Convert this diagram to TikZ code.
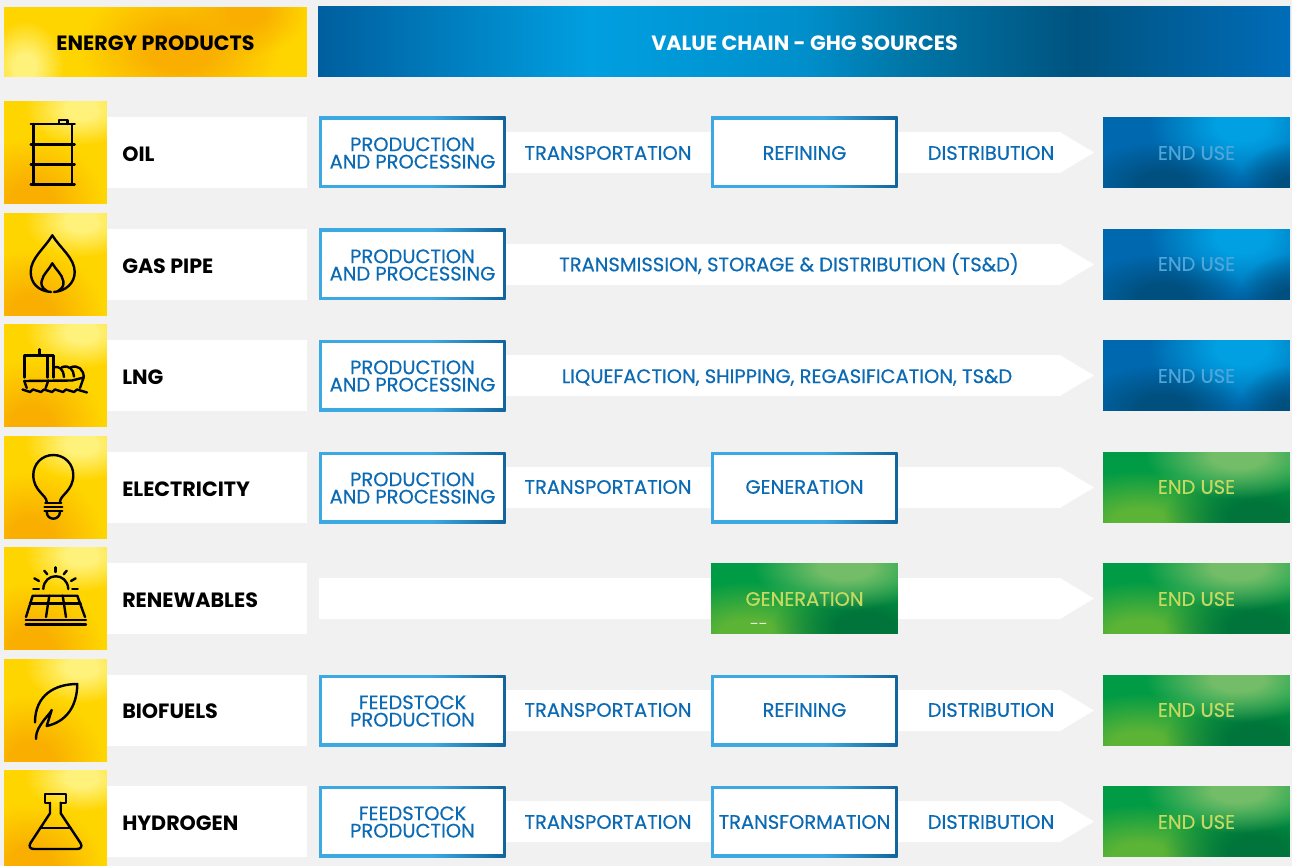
\documentclass[tikz,border=0pt]{standalone}
\usepackage{fontspec}
\setmainfont{Poppins}
\newfontfamily\stagefont[FakeBold=0.4]{Poppins}
\usetikzlibrary{fadings}
\definecolor{pagegray}{HTML}{F1F1F1}
\definecolor{stageblue}{HTML}{0A6AB4}
\definecolor{goldbase}{HTML}{FFD500}
\definecolor{goldorange}{HTML}{F9AE00}
\definecolor{goldlight}{HTML}{FFF27A}
\definecolor{blueend}{HTML}{0068AE}
\definecolor{bluebright}{HTML}{00A0E2}
\definecolor{bluedark}{HTML}{00507F}
\definecolor{blueendtext}{HTML}{4FA6DA}
\definecolor{greenend}{HTML}{009B45}
\definecolor{greenlight}{HTML}{74BD68}
\definecolor{greenlime}{HTML}{5CB436}
\definecolor{greendark}{HTML}{00743A}
\definecolor{greenendtext}{HTML}{C6D961}
\definecolor{framelight}{HTML}{3CA9E2}
\definecolor{framedark}{HTML}{12649C}
\definecolor{headone}{HTML}{005E9E}
\definecolor{headtwo}{HTML}{009FE0}
\definecolor{headthree}{HTML}{008FCB}
\definecolor{headfour}{HTML}{0077A8}
\definecolor{headfive}{HTML}{00537F}
\definecolor{headsix}{HTML}{006CB8}
\pgfdeclareradialshading{softdisc}{\pgfpointorigin}{color(0bp)=(white); color(7bp)=(white); color(25bp)=(black); color(50bp)=(black)}
\pgfdeclarefading{softglow}{\pgfuseshading{softdisc}}
\pgfdeclarehorizontalshading{headerblue}{100bp}{color(0bp)=(headone); color(25bp)=(headone); color(39bp)=(headtwo); color(50bp)=(headthree); color(55bp)=(headfour); color(64bp)=(headfive); color(75bp)=(headsix); color(100bp)=(headsix)}
\pgfdeclarehorizontalshading{framefade}{100bp}{color(0bp)=(framelight); color(25bp)=(framelight); color(55bp)=(framelight); color(75bp)=(framedark); color(100bp)=(framedark)}
\tikzset{
  pixels/.style={x=0.75pt,y=-0.75pt},
  producttext/.style={font=\fontsize{15.5}{15.5}\selectfont\bfseries, text=black, anchor=west, inner sep=0pt},
  stagetext/.style={font=\stagefont\fontsize{14.6}{13}\selectfont, text=stageblue, align=center, inner sep=0pt},
  endtext/.style={font=\stagefont\fontsize{14.6}{13}\selectfont, align=center, inner sep=0pt},
  icon/.style={draw=black, line width=1.8pt, line cap=round, line join=round},
}
% a soft spot fills the panel, args: colour, centre x, centre y, radius x, radius y, all as parts of the panel
\newcommand{\spot}[5]{\fill[#1, path fading=softglow, fading transform={xshift={(#2-0.5)*50bp}, yshift={(0.5-#3)*50bp}, xscale={2*#4}, yscale={2*#5}}] (0,0) rectangle (1,1);}
% panels, args: left, top, width, height
\newcommand{\goldpanel}[4]{\begin{scope}[shift={(#1,#2)},x=#3*0.75pt,y=-#4*0.75pt]
  \fill[goldbase] (0,0) rectangle (1,1);
  \spot{goldorange}{0.26}{1}{0.7}{0.65}
  \spot{goldlight}{0.75}{0.08}{0.55}{0.35}
\end{scope}}
\newcommand{\blueendpanel}[4]{\begin{scope}[shift={(#1,#2)},x=#3*0.75pt,y=-#4*0.75pt]
  \fill[blueend] (0,0) rectangle (1,1);
  \spot{bluebright}{0.74}{0.1}{0.5}{0.9}
  \spot{bluedark}{0.32}{0.95}{0.45}{0.6}
  \spot{bluedark}{1}{1.05}{0.3}{0.7}
\end{scope}}
\newcommand{\greenendpanel}[4]{\begin{scope}[shift={(#1,#2)},x=#3*0.75pt,y=-#4*0.75pt]
  \fill[greenend] (0,0) rectangle (1,1);
  \spot{greenlime}{0.2}{1}{0.55}{0.75}
  \spot{greendark}{0.82}{0.92}{0.5}{0.7}
  \spot{greenlight}{0.72}{0.06}{0.5}{0.6}
\end{scope}}
% blue edged box behind a stage, args: left, top
\newcommand{\stageframe}[2]{\shade[shading=framefade] (#1,#2) rectangle ++(186.5,71);
  \fill[white] (#1+3,#2+3) rectangle ++(180.5,65);}
\newcommand{\arrowband}[1]{\fill[white] (319,#1+31) -- (1060,#1+31) -- (1094,#1+51.5) -- (1060,#1+72) -- (319,#1+72) -- cycle;}
\begin{document}
\begin{tikzpicture}[pixels]
  \useasboundingbox (0,0) rectangle (1292,866);
  \fill[pagegray] (0,0) rectangle (1292,866);
  % headers
  \begin{scope}[shift={(4,7)},x=303*0.75pt,y=-70*0.75pt]
    \fill[goldbase] (0,0) rectangle (1,1);
    \spot{goldorange}{0.58}{0.6}{0.33}{1}
    \spot{goldorange}{0.8}{0.05}{0.2}{0.65}
    \spot{goldlight}{0.07}{0.85}{0.13}{0.65}
  \end{scope}
  \shade[shading=headerblue] (318,7) rectangle (1290,77);
  \node (energyhead) [font=\fontsize{15.5}{15.5}\selectfont\bfseries, inner sep=0pt] at (155.5,43) {ENERGY PRODUCTS};
  \node (chainhead) [font=\fontsize{15.5}{15.5}\selectfont\bfseries, text=white, inner sep=0pt] at (804.5,43) {VALUE CHAIN - GHG SOURCES};

  % white bands and product rows
  \arrowband{101}
  \arrowband{213}
  \arrowband{324}
  \arrowband{436}
  \arrowband{547}
  \arrowband{659}
  \arrowband{770}
  \fill[white] (107,117) rectangle (307,188);
  \fill[white] (107,229) rectangle (307,300);
  \fill[white] (107,340) rectangle (307,411);
  \fill[white] (107,452) rectangle (307,523);
  \fill[white] (107,563) rectangle (307,634);
  \fill[white] (107,675) rectangle (307,746);
  \fill[white] (107,786) rectangle (307,857);
  \goldpanel{4}{101}{103}{103}
  \goldpanel{4}{213}{103}{103}
  \goldpanel{4}{324}{103}{103}
  \goldpanel{4}{436}{103}{103}
  \goldpanel{4}{547}{103}{103}
  \goldpanel{4}{659}{103}{103}
  \goldpanel{4}{770}{103}{96}
  \node (oil) [producttext] at (122,154) {OIL};
  \node (gaspipe) [producttext] at (122,266) {GAS PIPE};
  \node (lng) [producttext] at (122,377) {LNG};
  \node (electricity) [producttext] at (122,489) {ELECTRICITY};
  \node (renewables) [producttext] at (122,600) {RENEWABLES};
  \node (biofuels) [producttext] at (122,711) {BIOFUELS};
  \node (hydrogen) [producttext] at (122,823) {HYDROGEN};

  % barrel
  \draw[icon] (33.3,124) -- (33.3,184.7);
  \draw[icon] (71.7,124) -- (71.7,184.7);
  \draw[icon] (30.7,124) -- (74.7,124);
  \draw[icon] (30.7,144.5) -- (74.7,144.5);
  \draw[icon] (30.7,164.5) -- (74.7,164.5);
  \draw[icon] (30.7,184.7) -- (74.7,184.7);
  \draw[icon] (58.7,124) -- (58.7,120.3) -- (67.3,120.3) -- (67.3,124);
  % flame
  \draw[icon] (51,292) .. controls (38,291) and (30.7,283) .. (30.7,272) .. controls (30.7,258) and (45,248) .. (52.3,235.3) .. controls (60,248) and (74.7,258) .. (74.7,272) .. controls (74.7,283) and (66,291) .. (54,292);
  \draw[icon] (47,291) .. controls (41,288) and (41,283) .. (41.7,281) .. controls (43,274) and (49,270) .. (52.3,263.3) .. controls (56,270) and (62,274) .. (63.3,281) .. controls (64,285) and (63,288) .. (58,291);
  % ship
  \draw[icon] (39.3,349.3) -- (39.3,355.5);
  \draw[icon] (24.3,377.5) -- (24.3,355.5) -- (53.3,355.5) -- (53.3,377.5);
  \draw[icon] (47.3,355.5) -- (47.3,377.5);
  \draw[icon] (53.3,367.5) .. controls (59,365) and (64,370) .. (64,377);
  \draw[icon] (61.5,367.5) .. controls (69,364) and (74,370) .. (74,376.5);
  \draw[icon] (70.5,367.5) .. controls (78,364) and (84,370) .. (83.7,377.5);
  \draw[icon] (24.3,381) -- (72,380.5) -- (83.7,377.5) -- (80,388);
  \draw[icon] (24.3,381) -- (26.7,388);
  \draw[icon] (48.3,380.5) -- (45.7,388);
  \draw[icon] (22.5,389.5) -- (30,392) -- (33,389.5) -- (41,392) -- (44,389.5) -- (52,392) -- (55,389.5) -- (63,392) -- (66,389.5) -- (74,392) -- (77,389.5) -- (87,392.5);
  % bulb
  \draw[icon] (46.7,502) .. controls (46.7,495) and (33.3,491) .. (33.3,475) .. controls (33.3,464) and (42,455) .. (53.3,455) .. controls (64.7,455) and (73.3,464) .. (73.3,475) .. controls (73.3,491) and (60,495) .. (60,502);
  \draw[icon] (45.3,502.7) -- (61.3,502.7);
  \draw[icon] (44.5,506.7) -- (62.3,506.7);
  \draw[icon] (44.5,510.7) -- (62.3,510.7);
  \draw[icon] (46.7,511.7) .. controls (46.7,521) and (60,521) .. (60,511.7);
  % solar panel
  \draw[icon] (43.3,589) .. controls (44,572) and (67.5,572) .. (68.3,589);
  \draw[icon] (55.3,567.3) -- (55.3,572);
  \draw[icon] (44.3,570.7) -- (47.3,574.3);
  \draw[icon] (66.7,570.7) -- (63.7,574.3);
  \draw[icon] (34.3,578.3) -- (39,581);
  \draw[icon] (75.7,578.3) -- (71,581);
  \draw[icon] (33.3,589) -- (39,589);
  \draw[icon] (72.3,589) -- (77.7,589);
  \draw[icon] (26,617) -- (32.7,595.7) -- (77.3,595.7) -- (85,617);
  \draw[icon] (30,603.3) -- (80.7,603.3);
  \draw[icon] (49.3,595.7) -- (46,617);
  \draw[icon] (62.7,595.7) -- (66,617);
  \draw[icon] (25.7,620) -- (86,620);
  \draw[icon] (25.7,624.5) -- (86,624.5);
  % leaf
  \draw[icon] (77.3,684) .. controls (55,684) and (35,695) .. (35,722.5);
  \draw[icon] (36,739) .. controls (36,730) and (40,726) .. (44,720) .. controls (48,715) and (51,712) .. (51.7,710) -- (46.7,726) .. controls (65,722) and (77,708) .. (77.3,684);
  % flask
  \draw[icon] (50,802.7) -- (45,802.7) -- (45,794) -- (66,794) -- (66,802.7) -- (60.7,802.7);
  \draw[icon] (50,802.7) -- (50,813.3) -- (30.5,843) .. controls (28.5,846.5) and (30,849) .. (34,849) -- (77,849) .. controls (81,849) and (82.5,846.5) .. (80.5,843) -- (60.7,813.3) -- (60.7,802.7);
  \draw[icon] (40,827.7) -- (70.7,827.7);

  % oil
  \stageframe{319}{117}
  \stageframe{711}{117}
  \node (oilprod) [stagetext] at (412.5,153) {PRODUCTION\\AND PROCESSING};
  \node (oiltrans) [stagetext] at (608,153) {TRANSPORTATION};
  \node (oilrefine) [stagetext] at (804.5,153) {REFINING};
  \node (oildist) [stagetext] at (991,153) {DISTRIBUTION};
  \blueendpanel{1103}{117}{187}{71}
  \node (oilend) [endtext, text=blueendtext] at (1196.5,153) {END USE};
  % gas pipe
  \stageframe{319}{229}
  \node (gasprod) [stagetext] at (412.5,265) {PRODUCTION\\AND PROCESSING};
  \node (gastsd) [stagetext] at (789,264) {TRANSMISSION, STORAGE \& DISTRIBUTION (TS\&D)};
  \blueendpanel{1103}{229}{187}{71}
  \node (gasend) [endtext, text=blueendtext] at (1196.5,264) {END USE};
  % lng
  \stageframe{319}{340}
  \node (lngprod) [stagetext] at (412.5,376) {PRODUCTION\\AND PROCESSING};
  \node (lngchain) [stagetext] at (787,377.5) {LIQUEFACTION, SHIPPING, REGASIFICATION, TS\&D};
  \blueendpanel{1103}{340}{187}{71}
  \node (lngend) [endtext, text=blueendtext] at (1196.5,376) {END USE};
  % electricity
  \stageframe{319}{452}
  \stageframe{711}{452}
  \node (elecprod) [stagetext] at (412.5,488) {PRODUCTION\\AND PROCESSING};
  \node (electrans) [stagetext] at (608,487) {TRANSPORTATION};
  \node (elecgen) [stagetext] at (804.5,487) {GENERATION};
  \greenendpanel{1103}{452}{187}{71}
  \node (elecend) [endtext, text=greenendtext] at (1196.5,487) {END USE};
  % renewables
  \greenendpanel{711}{563}{187}{71}
  \node (renewgen) [endtext, text=greenendtext] at (804.5,599) {GENERATION};
  \node (renewmark) [font=\fontsize{9.5}{9.5}\selectfont, text=white, inner sep=0pt] at (758.5,626) {--{}--};
  \greenendpanel{1103}{563}{187}{71}
  \node (renewend) [endtext, text=greenendtext] at (1196.5,599) {END USE};
  % biofuels
  \stageframe{319}{675}
  \stageframe{711}{675}
  \node (bioprod) [stagetext] at (412.5,711) {FEEDSTOCK\\PRODUCTION};
  \node (biotrans) [stagetext] at (608,710) {TRANSPORTATION};
  \node (biorefine) [stagetext] at (804.5,710) {REFINING};
  \node (biodist) [stagetext] at (991,710) {DISTRIBUTION};
  \greenendpanel{1103}{675}{187}{71}
  \node (bioend) [endtext, text=greenendtext] at (1196.5,710) {END USE};
  % hydrogen
  \stageframe{319}{786}
  \stageframe{711}{786}
  \node (hydroprod) [stagetext] at (412.5,822) {FEEDSTOCK\\PRODUCTION};
  \node (hydrotrans) [stagetext] at (608,822) {TRANSPORTATION};
  \node (hydroform) [stagetext] at (804.5,822) {TRANSFORMATION};
  \node (hydrodist) [stagetext] at (991,822) {DISTRIBUTION};
  \greenendpanel{1103}{786}{187}{71}
  \node (hydroend) [endtext, text=greenendtext] at (1196.5,822) {END USE};
\end{tikzpicture}
\end{document}
